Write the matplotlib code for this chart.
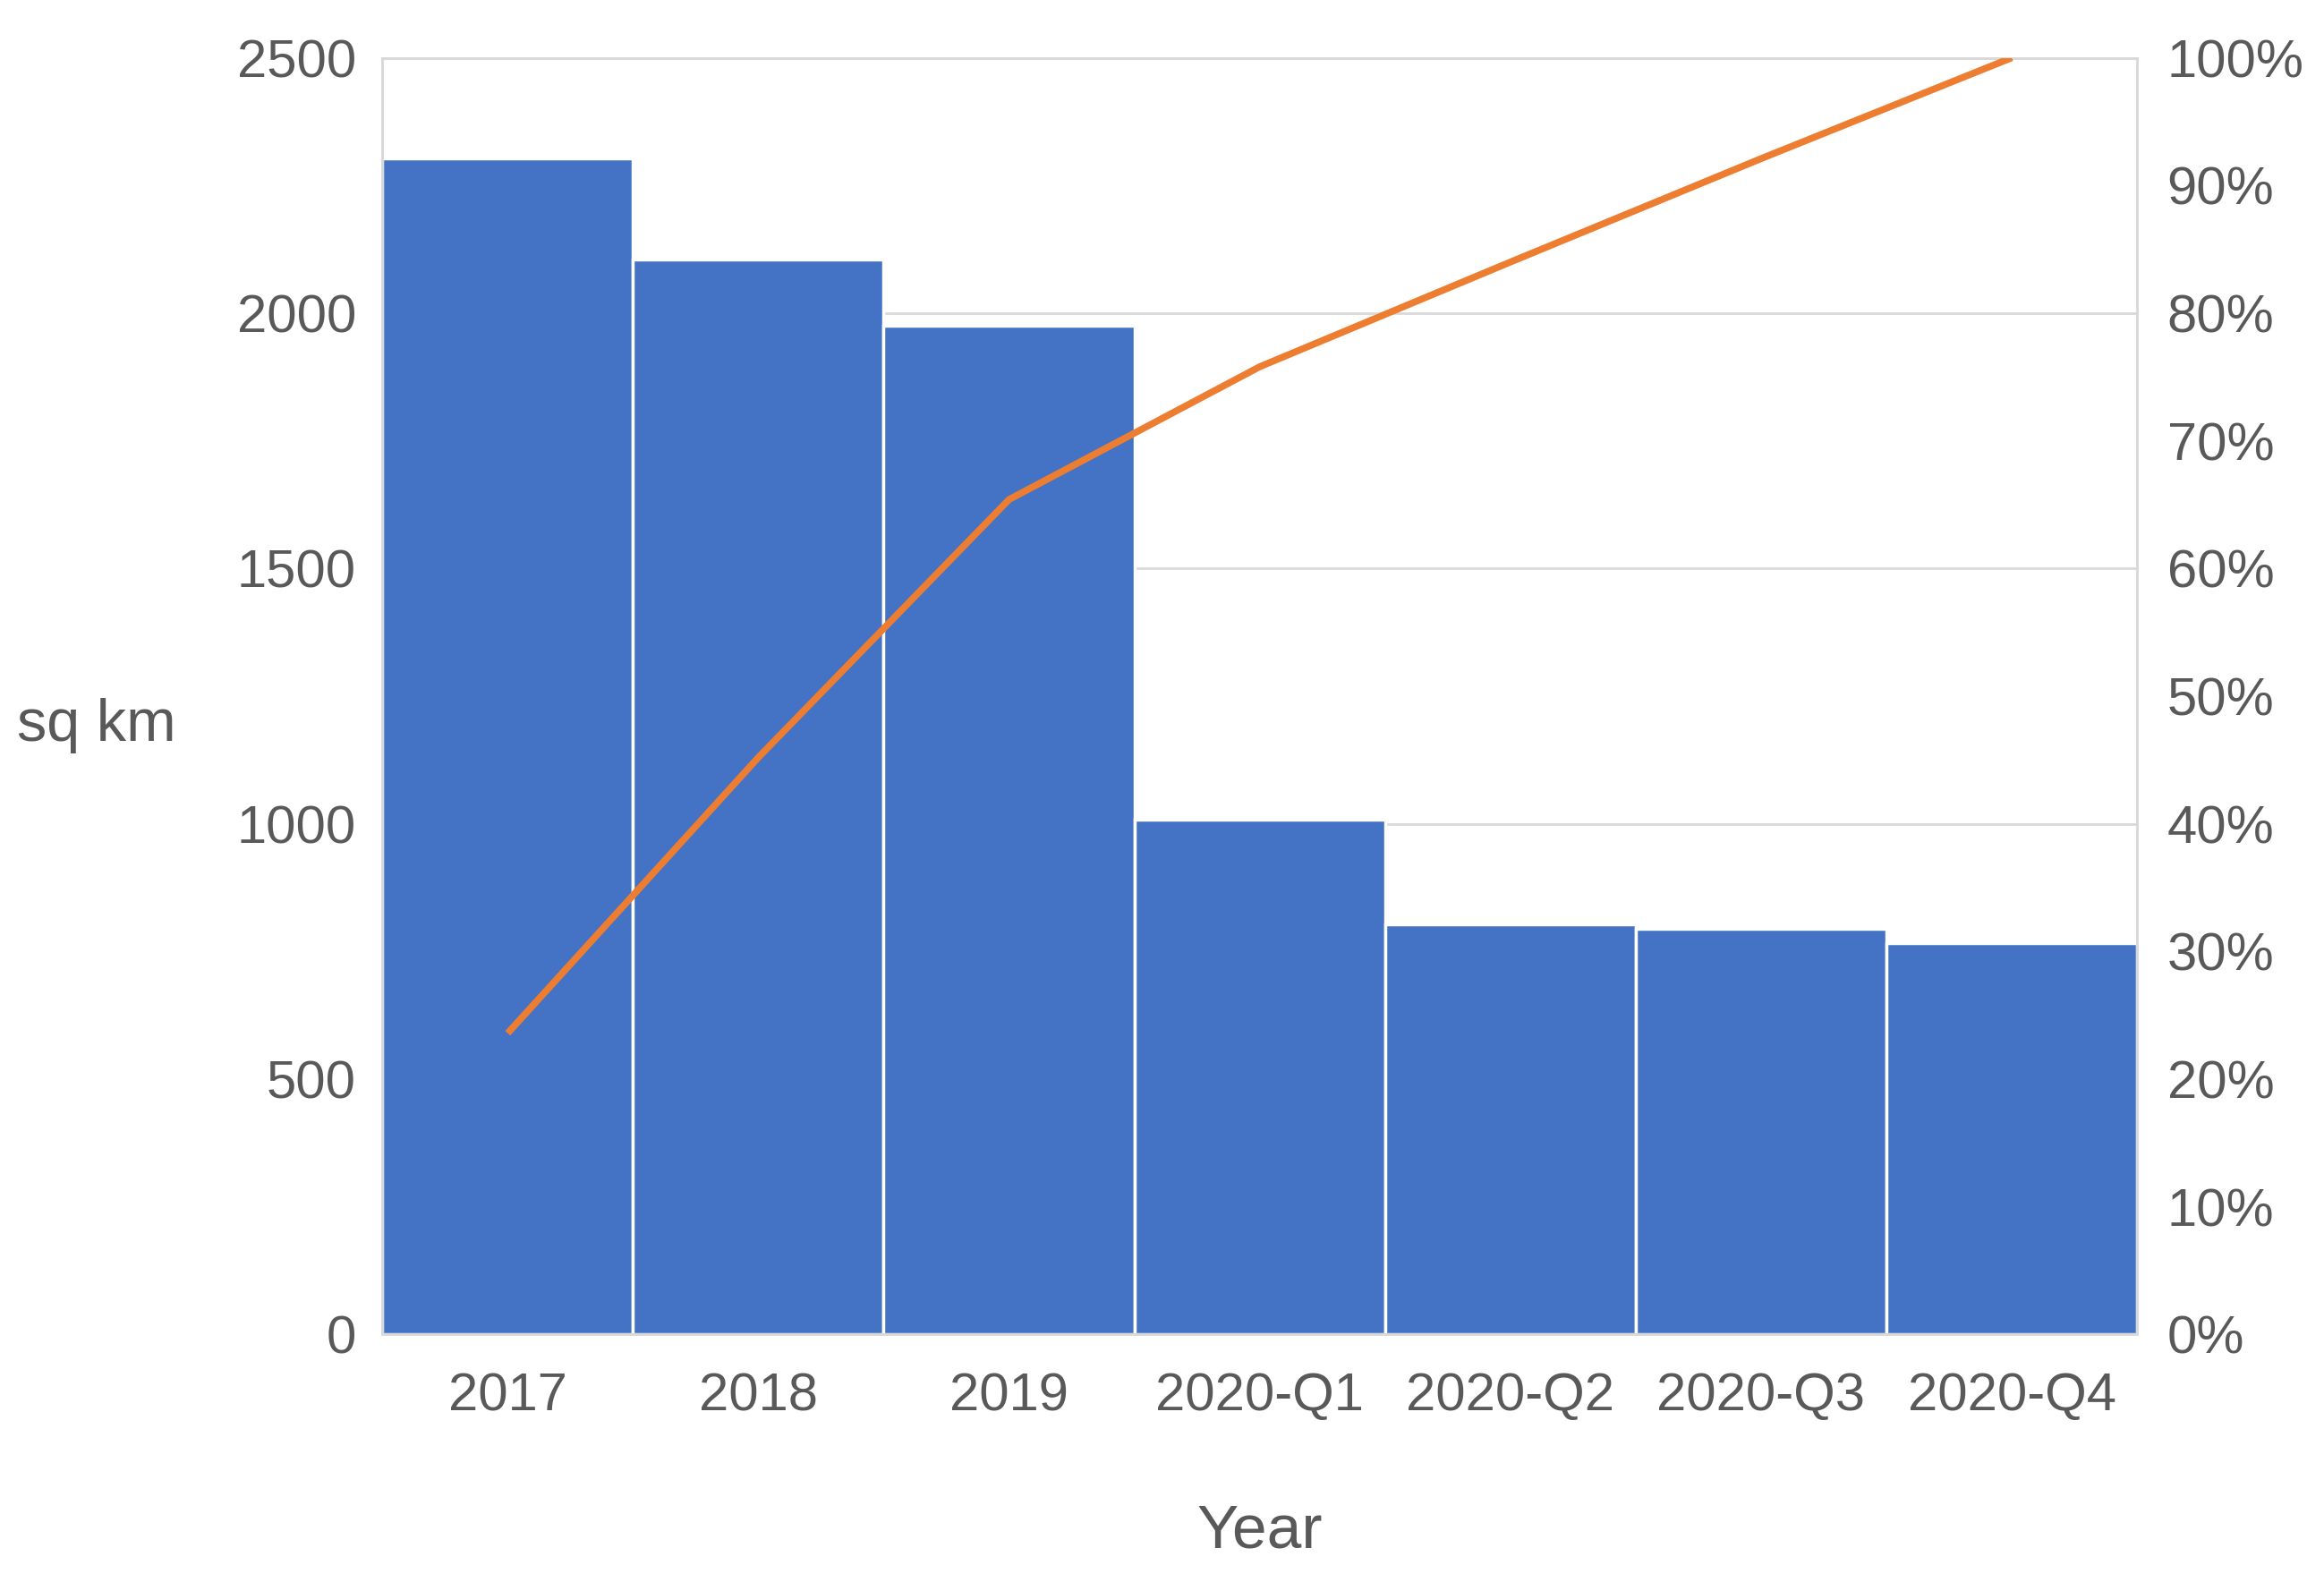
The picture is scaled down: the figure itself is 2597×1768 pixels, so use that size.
import matplotlib
matplotlib.use("Agg")
import matplotlib.pyplot as plt
from matplotlib.ticker import FuncFormatter

categories = ["2017", "2018", "2019", "2020-Q1", "2020-Q2", "2020-Q3", "2020-Q4"]
area_sq_km = [2303, 2105, 1975, 1009, 803, 795, 766]
cumulative_pct = [23.6, 45.2, 65.4, 75.8, 84.0, 92.1, 100.0]
left_ticks = [0, 500, 1000, 1500, 2000, 2500]
right_ticks = [0, 10, 20, 30, 40, 50, 60, 70, 80, 90, 100]

plt.rcParams['font.family'] = ['Liberation Sans', 'DejaVu Sans']
text_color = "#595959"
grid_color = "#D9D9D9"
bar_color = "#4472C4"
line_color = "#ED7D31"

fig = plt.figure(figsize=(25.97, 17.68), dpi=100)
ax = fig.add_axes([0.1645, 0.1564, 0.7551, 0.8071])
x = list(range(len(categories)))
ax.bar(x, area_sq_km, width=1.0, color=bar_color, edgecolor="white", linewidth=2.5, zorder=2)
ax.set_xlim(-0.5, len(categories) - 0.5)
ax.set_ylim(0, 2500)
ax.set_yticks(left_ticks)
ax.set_xticks(x)
ax.set_xticklabels(categories)
ax.grid(axis="y", color=grid_color, linewidth=2, zorder=0)
ax.set_axisbelow(True)
for s in ["left", "right", "bottom", "top"]:
    ax.spines[s].set_color(grid_color)
    ax.spines[s].set_linewidth(2)
ax.tick_params(axis="both", length=0, labelsize=43, colors=text_color)
ax.tick_params(axis="y", pad=21)
ax.tick_params(axis="x", pad=30)
ax.set_ylabel("sq km", fontsize=48, color=text_color, rotation=0, labelpad=0)
ax.yaxis.label.set_va("center")
ax.yaxis.set_label_coords(-0.163, 0.477)
ax.set_xlabel("Year", fontsize=50, color=text_color, labelpad=66)

ax2 = ax.twinx()
ax2.plot(x, cumulative_pct, color=line_color, linewidth=5.5, zorder=3, solid_capstyle="butt")
ax2.set_ylim(0, 100)
ax2.set_yticks(right_ticks)
ax2.yaxis.set_major_formatter(FuncFormatter(lambda v, p: f"{int(v)}%"))
ax2.tick_params(axis="y", length=0, labelsize=43, colors=text_color, pad=24)
for s in ["left", "right", "bottom", "top"]:
    ax2.spines[s].set_color(grid_color)
    ax2.spines[s].set_linewidth(2)

fig.savefig("out.png", dpi=100, facecolor="white")
